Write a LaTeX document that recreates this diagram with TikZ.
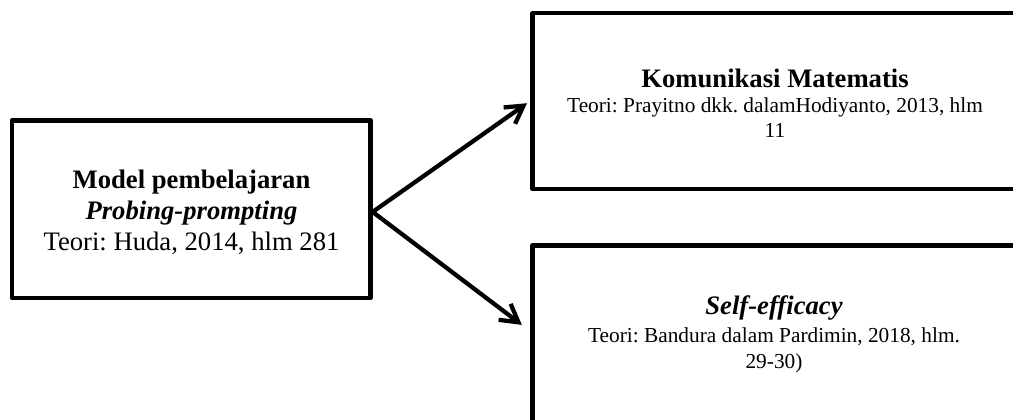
\documentclass[tikz,border=0pt]{standalone}
\usepackage{fontspec}
\setmainfont{Liberation Serif}
\usetikzlibrary{arrows.meta,calc}
\begin{document}
\frenchspacing
\begin{tikzpicture}[x=0.75pt,y=-0.75pt,
  box/.style={draw=black,line width=3.2pt,line join=round,inner sep=0pt,fill=none},
  label/.style={align=center,inner sep=0pt},
  arr/.style={line width=3.2pt,-{Straight Barb[length=13pt,width=15pt,line width=3.2pt]}}]
\useasboundingbox (0,0) rectangle (1013,419);
% boxes
\node[box,minimum width=268.9pt,minimum height=133.1pt] (lbox) at (191.25,209.25) {};
\node[box,minimum width=363.75pt,minimum height=131.8pt] (tbox) at (775,101.2) {};
\node[box,minimum width=363.75pt,minimum height=225pt] (bbox) at (775,395.5) {};
% texts
\node[label,font=\fontsize{20}{23.25}\selectfont] (ltext) at (191.5,212)
  {\textbf{Model pembelajaran}\\\textbf{\textit{Probing-prompting}}\\Teori: Huda, 2014, hlm 281};
\node[label,font=\fontsize{16}{18.75}\selectfont] (ttext) at (775,103)
  {{\fontsize{20}{18.75}\selectfont\bfseries Komunikasi Matematis}\\Teori: Prayitno dkk. dalamHodiyanto, 2013, hlm\\11};
\node[label,font=\fontsize{16}{19}\selectfont] (btext) at (774,334)
  {{\fontsize{20}{19}\selectfont\bfseries\itshape Self-efficacy}\\[2.4pt]Teori: Bandura dalam Pardimin, 2018, hlm.\\29-30)};
% connectors
\coordinate (bend) at ($(bbox.north west)+(-8.5,81.5)$);
\draw[arr] ([yshift=-2pt]lbox.east) -- ([xshift=-2.5pt,yshift=-1.5pt]tbox.west);
\draw[arr] ([yshift=-2pt]lbox.east) -- (bend);
\end{tikzpicture}
\end{document}
